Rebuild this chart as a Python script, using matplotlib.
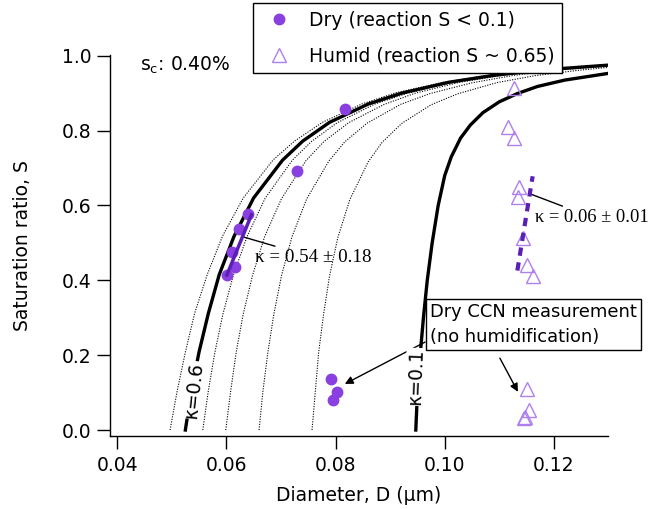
import matplotlib
matplotlib.use('Agg')
import matplotlib.pyplot as plt

plt.rcParams['font.family'] = 'DejaVu Sans'
plt.rcParams['font.size'] = 13.5

# kappa isolines (diameter um, saturation ratio)
k07_d = [0.0497, 0.0510, 0.0525, 0.0542, 0.0565, 0.0593, 0.0631, 0.0686, 0.0725, 0.0776, 0.0848, 0.0910, 0.0997, 0.1081, 0.1169, 0.1300]
k07_s = [0.0, 0.104, 0.208, 0.312, 0.415, 0.518, 0.620, 0.722, 0.772, 0.822, 0.871, 0.901, 0.929, 0.948, 0.962, 0.976]
k06_d = [0.0525, 0.0536, 0.0550, 0.0567, 0.0587, 0.0614, 0.0650, 0.0703, 0.0740, 0.0789, 0.0860, 0.0921, 0.1007, 0.1091, 0.1178, 0.1300]
k06_s = [0.0, 0.104, 0.208, 0.311, 0.415, 0.517, 0.620, 0.721, 0.772, 0.822, 0.871, 0.900, 0.929, 0.948, 0.962, 0.975]
k05_d = [0.0557, 0.0567, 0.0579, 0.0594, 0.0613, 0.0638, 0.0671, 0.0721, 0.0756, 0.0803, 0.0872, 0.0932, 0.1015, 0.1097, 0.1183, 0.1300]
k05_s = [0.0, 0.104, 0.207, 0.311, 0.414, 0.517, 0.619, 0.721, 0.771, 0.821, 0.871, 0.900, 0.929, 0.948, 0.962, 0.975]
k04_d = [0.0599, 0.0608, 0.0618, 0.0631, 0.0648, 0.0670, 0.0701, 0.0746, 0.0779, 0.0824, 0.0889, 0.0946, 0.1027, 0.1107, 0.1192, 0.1300]
k04_s = [0.0, 0.104, 0.207, 0.310, 0.413, 0.516, 0.618, 0.720, 0.771, 0.821, 0.870, 0.900, 0.929, 0.948, 0.962, 0.974]
k03_d = [0.0660, 0.0667, 0.0676, 0.0687, 0.0701, 0.0720, 0.0747, 0.0788, 0.0817, 0.0858, 0.0919, 0.0973, 0.1051, 0.1128, 0.1210, 0.1300]
k03_s = [0.0, 0.103, 0.206, 0.309, 0.412, 0.515, 0.617, 0.719, 0.770, 0.820, 0.870, 0.899, 0.928, 0.948, 0.962, 0.972]
k02_d = [0.0757, 0.0763, 0.0769, 0.0778, 0.0789, 0.0804, 0.0826, 0.0860, 0.0885, 0.0921, 0.0975, 0.1023, 0.1095, 0.1166, 0.1244, 0.1300]
k02_s = [0.0, 0.103, 0.206, 0.308, 0.411, 0.513, 0.615, 0.717, 0.768, 0.819, 0.869, 0.898, 0.928, 0.947, 0.961, 0.969]
k01_d = [0.0947, 0.0950, 0.0955, 0.0961, 0.0968, 0.0977, 0.0988, 0.1000, 0.1012, 0.1029, 0.1047, 0.1070, 0.1100, 0.1133, 0.1170, 0.1220, 0.1300]
k01_s = [0.0, 0.10, 0.20, 0.30, 0.40, 0.50, 0.60, 0.68, 0.73, 0.78, 0.815, 0.848, 0.877, 0.899, 0.918, 0.935, 0.953]

# measurements
dry_d = [0.0817, 0.0729, 0.0640, 0.0624, 0.0610, 0.0616, 0.0601, 0.0792, 0.0802, 0.0796]
dry_s = [0.857, 0.693, 0.578, 0.538, 0.475, 0.435, 0.414, 0.137, 0.102, 0.080]
humid_d = [0.1126, 0.1116, 0.1126, 0.1136, 0.1134, 0.1143, 0.1150, 0.1161, 0.1151, 0.1154, 0.1147, 0.1146]
humid_s = [0.913, 0.810, 0.779, 0.648, 0.623, 0.512, 0.441, 0.411, 0.110, 0.053, 0.036, 0.031]

# fitted kappa lines
dryfit_d = [0.0601, 0.0646]
dryfit_s = [0.414, 0.575]
humfit_d = [0.1133, 0.1161]
humfit_s = [0.426, 0.678]

fig = plt.figure(figsize=(6.52, 5.09), dpi=100)
ax = fig.add_axes([110/652, 1-436/509, (608-110)/652, (436-55)/509])

dotted = (0, (1, 1.3))
for d, s in [(k07_d, k07_s), (k05_d, k05_s), (k04_d, k04_s), (k03_d, k03_s), (k02_d, k02_s)]:
    ax.plot(d, s, color='k', lw=0.8, ls=dotted)
for d, s in [(k06_d, k06_s), (k01_d, k01_s)]:
    ax.plot(d, s, color='k', lw=2.4, solid_joinstyle='round')

purple = '#8a3fe0'
ax.plot(dry_d, dry_s, 'o', color=purple, ms=7.5, mec=purple, ls='none',
        label='Dry (reaction S < 0.1)', zorder=5)
ax.plot(humid_d, humid_s, '^', mfc='none', mec='#ad80ee', ms=9.5, mew=1, ls='none',
        label='Humid (reaction S ~ 0.65)', zorder=5)

ax.plot(dryfit_d, dryfit_s, color='#5a1fb5', lw=2.5, zorder=6)
ax.plot(humfit_d, humfit_s, color='#5a1fb5', lw=3, ls=(0, (2, 1.6)), zorder=6)

# kappa labels on the thick curves
wbox = dict(facecolor='white', edgecolor='none', pad=0.5)
ax.text(0.0540, 0.107, 'κ=0.6', rotation=84, ha='center', va='center', bbox=wbox, zorder=4)
ax.text(0.0947, 0.142, 'κ=0.1', rotation=88, ha='center', va='center', bbox=wbox, zorder=4)

ax.text(0.0442, 0.975, 's$_\\mathregular{c}$: 0.40%', ha='left', va='center')

serif = 'Liberation Serif'
ax.annotate('κ = 0.54 ± 0.18', xy=(0.0631, 0.516), xytext=(0.0653, 0.461),
            family=serif, fontsize=13.7, va='center', ha='left',
            arrowprops=dict(arrowstyle='-', color='k', lw=1, shrinkA=0, shrinkB=0))
ax.annotate('κ = 0.06 ± 0.01', xy=(0.11545, 0.632), xytext=(0.1166, 0.568),
            family=serif, fontsize=13.3, va='center', ha='left',
            arrowprops=dict(arrowstyle='-', color='k', lw=1, shrinkA=0, shrinkB=0))

ax.text(0.0973, 0.283, 'Dry CCN measurement\n(no humidification)', ha='left', va='center',
        linespacing=1.5, zorder=7, fontsize=12.9,
        bbox=dict(boxstyle='square,pad=0.22', facecolor='white', edgecolor='k', lw=1))
arrow = dict(arrowstyle='-|>', color='k', lw=1, mutation_scale=12, shrinkA=0, shrinkB=0)
ax.annotate('', xy=(0.0817, 0.123), xytext=(0.0964, 0.235), arrowprops=arrow)
ax.annotate('', xy=(0.1134, 0.102), xytext=(0.1101, 0.192), arrowprops=arrow)

ax.set_xlim(0.0387, 0.1299)
ax.set_ylim(-0.016, 1.002)
ax.set_xticks([0.04, 0.06, 0.08, 0.10, 0.12])
ax.set_xticklabels(['0.04', '0.06', '0.08', '0.10', '0.12'])
ax.set_yticks([0.0, 0.2, 0.4, 0.6, 0.8, 1.0])
ax.set_yticklabels(['0.0', '0.2', '0.4', '0.6', '0.8', '1.0'])
ax.tick_params(direction='out', length=9.5, width=1, labelsize=13.5, pad=4)
ax.tick_params(axis='x', pad=5)
for side in ['top', 'right']:
    ax.spines[side].set_visible(False)
for side in ['left', 'bottom']:
    ax.spines[side].set_linewidth(1)
ax.set_xlabel('Diameter, D (μm)', fontsize=13.5, labelpad=8)
ax.set_ylabel('Saturation ratio, S', fontsize=13.5, labelpad=21)

leg = ax.legend(loc='upper left', bbox_to_anchor=(253/652, 1-3/509), bbox_transform=fig.transFigure,
                fancybox=False, edgecolor='k', framealpha=1, borderpad=0.4, handlelength=2,
                handletextpad=0.6, labelspacing=0.9, borderaxespad=0, fontsize=13.5)
leg.get_frame().set_linewidth(1)

fig.savefig('out.png', dpi=100)
